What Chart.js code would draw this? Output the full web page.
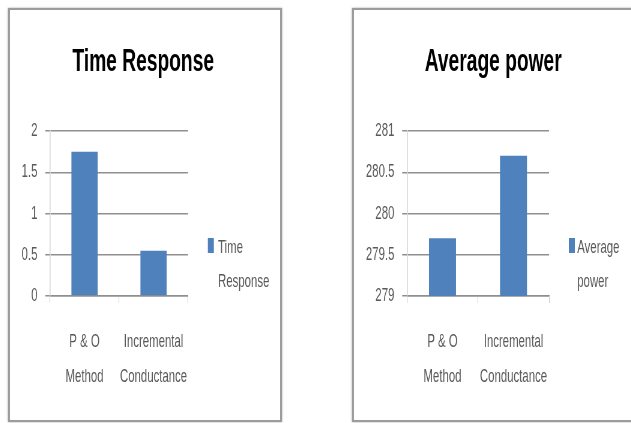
<!DOCTYPE html>
<html>
<head>
  <script src="https://cdn.jsdelivr.net/npm/chart.js"></script>
  <style>
    body { margin: 0; background: #fff; width: 631px; height: 423px; overflow: hidden; position: relative; }
    .panel {
      position: absolute; top: 8px; height: 410px; background: #fff;
      border: 2px solid #9c9c9c; box-shadow: 0 0 2px rgba(0,0,0,0.35); overflow: hidden;
    }
    #panelTime { left: 8px; width: 270px; }
    #panelPower { left: 352px; width: 290px; }
    /* charts are drawn wide, then squeezed sideways like the original figure */
    .panel canvas { position: absolute; left: 0; top: 0; transform: scaleX(0.6); transform-origin: 0 0; }
  </style>
</head>
<body>
  <div class="panel" id="panelTime"><canvas id="timeChart" width="450" height="410"></canvas></div>
  <div class="panel" id="panelPower"><canvas id="powerChart" width="464" height="410"></canvas></div>

  <script>
    // Дані
    const categories = [['P & O', 'Method'], ['Incremental', 'Conductance']];
    const timeResponse = [1.75, 0.55];
    const averagePower = [279.7, 280.7];
    const timeTicks = [0, 0.5, 1, 1.5, 2];
    const powerTicks = [279, 279.5, 280, 280.5, 281];
    const timeLegend = ['Time', 'Response'];
    const powerLegend = ['Average', 'power'];

    const barColor = '#4f81bd';
    const textColor = '#595959';
    const fontFamily = "'Liberation Sans', Arial, sans-serif";

    // Легенда справа з переносом тексту на два рядки
    const sideLegend = {
      id: 'sideLegend',
      afterDraw(chart, args, opts) {
        const ctx = chart.ctx;
        const area = chart.chartArea;
        ctx.save();
        ctx.fillStyle = chart.data.datasets[0].backgroundColor;
        ctx.fillRect(area.right + opts.boxOffset, 228, 10, 15);
        ctx.fillStyle = textColor;
        ctx.font = '19px ' + fontFamily;
        ctx.textAlign = 'left';
        ctx.textBaseline = 'middle';
        opts.lines.forEach((line, i) => {
          ctx.fillText(line, area.right + opts.textOffset, 238 + i * 34);
        });
        ctx.restore();
      }
    };

    function makeChart(canvasId, cfg) {
      const ticks = cfg.ticks;
      return new Chart(document.getElementById(canvasId), {
        type: 'bar',
        data: {
          labels: categories,
          datasets: [{
            label: cfg.legend.join(' '),
            data: cfg.values,
            backgroundColor: barColor,
            barPercentage: 0.38,
            categoryPercentage: 1
          }]
        },
        options: {
          responsive: false,
          animation: false,
          layout: { padding: { left: 0, right: cfg.padRight, top: 0, bottom: 0 } },
          plugins: {
            legend: { display: false },
            tooltip: { enabled: false },
            title: {
              display: true,
              text: cfg.title,
              color: '#000',
              font: { family: fontFamily, size: 32, weight: 'bold' },
              padding: { top: 33, bottom: 49.6 }
            },
            sideLegend: { lines: cfg.legend, boxOffset: 33, textOffset: cfg.textOffset }
          },
          scales: {
            x: {
              grid: { offset: true, drawOnChartArea: false, drawTicks: true, tickLength: 7, color: '#c4c4c4' },
              border: { color: '#8f8f8f', width: 1.5 },
              ticks: {
                color: textColor,
                font: { family: fontFamily, size: 19, lineHeight: 1.84 },
                padding: 21,
                maxRotation: 0,
                autoSkip: false
              },
              afterFit(scale) { scale.height = 124; }
            },
            y: {
              min: ticks[0],
              max: ticks[ticks.length - 1],
              grid: { color: '#8f8f8f', lineWidth: 1.5, tickLength: 8 },
              border: { color: '#cfcfcf', width: 1.5 },
              ticks: {
                stepSize: ticks[1] - ticks[0],
                color: textColor,
                font: { family: fontFamily, size: 19 },
                padding: 13,
                callback: value => String(value)
              },
              afterFit(scale) { scale.width = cfg.axisWidth; }
            },
            spacer: {
              type: 'linear',
              position: 'right',
              ticks: { display: false },
              grid: { display: false },
              border: { display: false },
              afterFit(scale) { scale.width = cfg.spacerWidth; }
            }
          }
        },
        plugins: [sideLegend]
      });
    }

    makeChart('timeChart', {
      title: 'Time Response',
      values: timeResponse,
      ticks: timeTicks,
      legend: timeLegend,
      axisWidth: 66.7,
      padRight: 6,
      spacerWidth: 147.3,
      textOffset: 50
    });

    makeChart('powerChart', {
      title: 'Average power',
      values: averagePower,
      ticks: powerTicks,
      legend: powerLegend,
      axisWidth: 88.3,
      padRight: 0,
      spacerWidth: 139,
      textOffset: 47
    });
  </script>
</body>
</html>
